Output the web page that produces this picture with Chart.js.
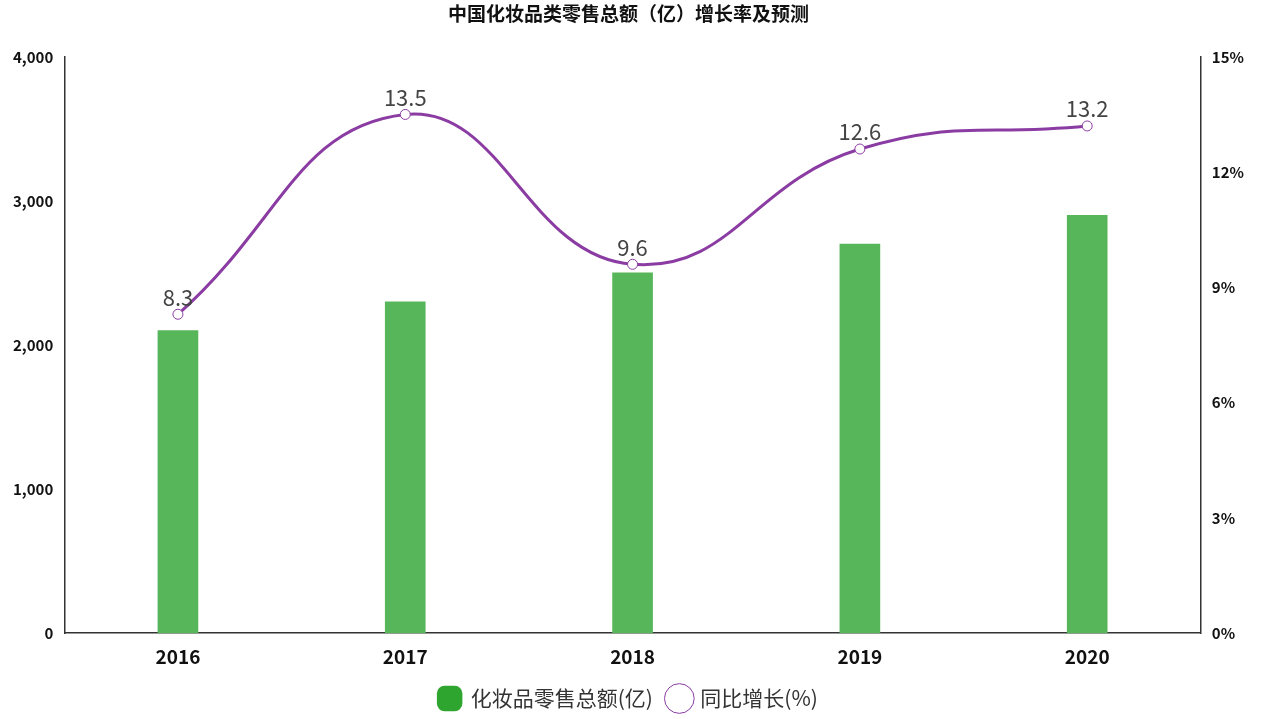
<!DOCTYPE html>
<html>
<head>
<meta charset="utf-8">
<script src="https://cdn.jsdelivr.net/npm/chart.js@4/dist/chart.umd.min.js"></script>
<style>
  html, body { margin: 0; padding: 0; background: #fff; overflow: hidden; }
</style>
</head>
<body>
<canvas id="chart" width="1267" height="719"></canvas>
<script>
var years = ['2016', '2017', '2018', '2019', '2020'];
var salesValues = [2100, 2300, 2500, 2700, 2900];
var growthValues = [8.3, 13.5, 9.6, 12.6, 13.2];
var leftTicks = [0, 1000, 2000, 3000, 4000];
var rightTicks = [0, 3, 6, 9, 12, 15];

var FONT = '"Noto Sans CJK SC", "Noto Sans", sans-serif';

// draws the numbers above the line points
const pointLabels = {
    id: 'pointLabels',
    afterDatasetsDraw(chart) {
        var ctx = chart.ctx;
        var meta = chart.getDatasetMeta(1);
        ctx.save();
        ctx.font = '22px ' + FONT;
        ctx.fillStyle = '#444';
        ctx.textAlign = 'center';
        ctx.textBaseline = 'bottom';
        meta.data.forEach(function (pt, i) {
            ctx.fillText(growthValues[i], pt.x, pt.y - 6);
        });
        ctx.restore();
    }
};

var chart = new Chart(document.getElementById('chart').getContext('2d'), {
    type: 'bar',
    data: {
        labels: years,
        datasets: [{
            label: '化妆品零售总额(亿)',
            data: salesValues,
            backgroundColor: '#58b65a',
            barThickness: 40,
            yAxisID: 'y',
            order: 2
        }, {
            type: 'line',
            label: '同比增长(%)',
            data: growthValues,
            borderColor: '#8b3ca3',
            borderWidth: 3,
            backgroundColor: '#fff',
            pointBorderColor: '#8b3ca3',
            pointBorderWidth: 1,
            pointRadius: 5,
            tension: 0.45,
            yAxisID: 'y1',
            order: 1
        }]
    },
    options: {
        responsive: false,
        animation: false,
        devicePixelRatio: 1,
        layout: { padding: { left: 10, right: 20, top: 0, bottom: 0 } },
        plugins: {
            title: {
                display: true,
                text: '中国化妆品类零售总额（亿）增长率及预测',
                font: { family: FONT, size: 19, weight: 'bold' },
                color: '#111',
                padding: { top: 2, bottom: 32 }
            },
            legend: {
                position: 'bottom',
                labels: {
                    font: { family: FONT, size: 21 },
                    color: '#333',
                    usePointStyle: true,
                    boxHeight: 22,
                    padding: 16,
                    generateLabels: function (c) {
                        return [{
                            text: '化妆品零售总额(亿)', fillStyle: '#2ea52e', strokeStyle: '#2ea52e',
                            lineWidth: 0, pointStyle: 'rectRounded', datasetIndex: 0, fontColor: '#333'
                        }, {
                            text: '同比增长(%)', fillStyle: '#fff', strokeStyle: '#8b3ca3',
                            lineWidth: 1, pointStyle: 'circle', datasetIndex: 1, fontColor: '#333'
                        }];
                    }
                }
            },
            tooltip: { enabled: false }
        },
        scales: {
            x: {
                grid: { display: false },
                border: { color: '#333', width: 1.5 },
                ticks: { font: { family: FONT, size: 19, weight: 'bold' }, color: '#111', maxRotation: 0, padding: 4 }
            },
            y: {
                min: 0, max: 4000,
                afterBuildTicks: function (a) { a.ticks = leftTicks.map(function (v) { return { value: v }; }); },
                grid: { display: false },
                border: { color: '#333', width: 1.5 },
                ticks: {
                    font: { family: FONT, size: 15, weight: 'bold' }, color: '#111',
                    callback: function (v) { return v.toLocaleString('en-US'); }
                }
            },
            y1: {
                position: 'right',
                min: 0, max: 15,
                afterBuildTicks: function (a) { a.ticks = rightTicks.map(function (v) { return { value: v }; }); },
                grid: { display: false },
                border: { color: '#333', width: 1.5 },
                ticks: {
                    font: { family: FONT, size: 15, weight: 'bold' }, color: '#111',
                    callback: function (v) { return v + '%'; }
                }
            }
        }
    },
    plugins: [pointLabels]
});
</script>
</body>
</html>
